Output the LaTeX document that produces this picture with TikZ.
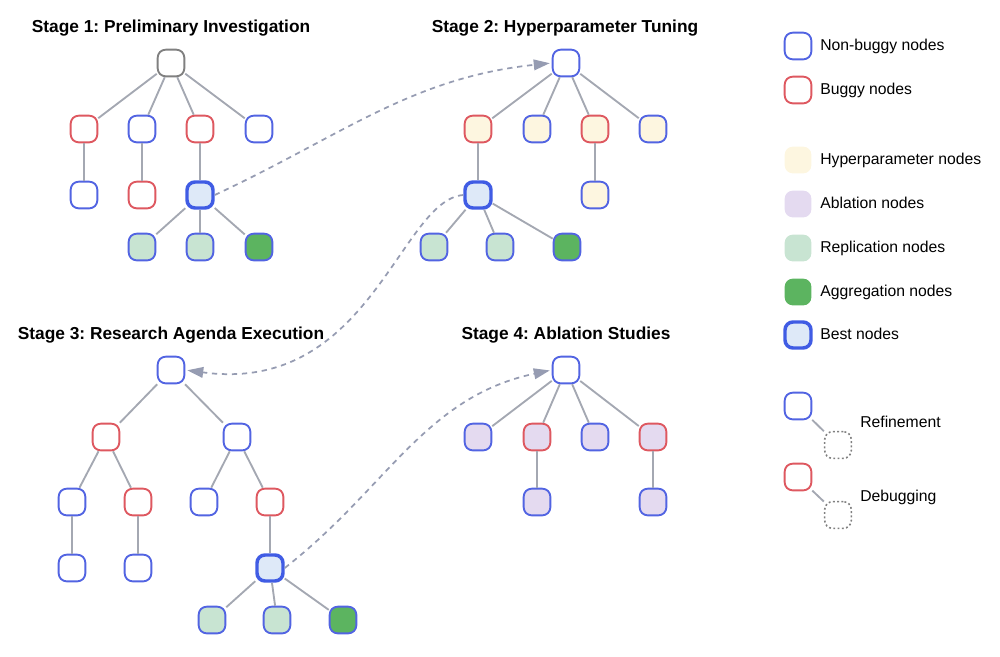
\documentclass[tikz,border=0pt]{standalone}
\usepackage{fontspec}
\setmainfont{Liberation Sans}
\usetikzlibrary{arrows.meta}
\frenchspacing

\definecolor{okblue}{RGB}{82,100,226}
\definecolor{bugred}{RGB}{222,88,96}
\definecolor{rootgray}{RGB}{128,128,128}
\definecolor{edgegray}{RGB}{164,168,178}
\definecolor{linkgray}{RGB}{150,156,178}
\definecolor{hypfill}{RGB}{253,246,224}
\definecolor{ablfill}{RGB}{228,218,240}
\definecolor{repfill}{RGB}{200,228,210}
\definecolor{aggfill}{RGB}{92,180,96}
\definecolor{bestfill}{RGB}{222,233,248}
\definecolor{bestblue}{RGB}{64,92,228}

\tikzset{
  box/.style={rectangle, rounded corners=6pt, minimum size=20pt, inner sep=0pt, line width=1.4pt, fill=white},
  good/.style={box, draw=okblue},
  bad/.style={box, draw=bugred},
  rootbox/.style={box, draw=rootgray},
  best/.style={box, draw=bestblue, line width=2.6pt, fill=bestfill, minimum size=19.5pt},
  ghost/.style={box, draw=rootgray, line width=1.2pt, dash pattern=on 1.4pt off 1.8pt},
  hyp/.style={fill=hypfill},
  abl/.style={fill=ablfill},
  rep/.style={fill=repfill},
  agg/.style={fill=aggfill},
  tie/.style={draw=edgegray, line width=1.4pt},
  jump/.style={draw=linkgray, line width=1.3pt, dash pattern=on 4pt off 3.5pt,
    -{Triangle[length=12pt,width=8pt]}, shorten >=1.5pt},
  stagetitle/.style={font=\fontsize{13}{15}\selectfont\bfseries, inner sep=0pt, text height=0.72em, text depth=0pt},
  legtext/.style={font=\fontsize{11.8}{14}\selectfont, anchor=west, inner sep=0pt, text height=0.72em, text depth=0pt},
}

\begin{document}
\begin{tikzpicture}[x=0.75pt, y=-0.75pt]
    \useasboundingbox (0,0) rectangle (1000,657);

    % Titles
    \node[stagetitle] (t1) at (171,28) {Stage 1: Preliminary Investigation};
    \node[stagetitle] (t2) at (565,28) {Stage 2: Hyperparameter Tuning};
    \node[stagetitle] (t3) at (171,335) {Stage 3: Research Agenda Execution};
    \node[stagetitle] (t4) at (566,335) {Stage 4: Ablation Studies};

    % Stage 1 tree
    \node[rootbox] (s1r) at (171,63) {};
    \node[bad] (s1a) at (84,129) {};
    \node[good] (s1b) at (142,129) {};
    \node[bad] (s1c) at (200,129) {};
    \node[good] (s1d) at (259,129) {};
    \node[good] (s1e) at (84,195) {};
    \node[bad] (s1f) at (142,195) {};
    \node[best] (s1g) at (200,195) {};
    \node[good, rep] (s1h) at (142,247) {};
    \node[good, rep] (s1i) at (200,247) {};
    \node[good, agg] (s1j) at (259,247) {};

    % Stage 2 tree
    \node[good] (s2r) at (566,63) {};
    \node[bad, hyp] (s2a) at (478,129) {};
    \node[good, hyp] (s2b) at (537,129) {};
    \node[bad, hyp] (s2c) at (595,129) {};
    \node[good, hyp] (s2d) at (653,129) {};
    \node[best] (s2e) at (478,195) {};
    \node[good, hyp] (s2f) at (595,195) {};
    \node[good, rep] (s2g) at (434,247) {};
    \node[good, rep] (s2h) at (500,247) {};
    \node[good, agg] (s2i) at (567,247) {};

    % Stage 3 tree
    \node[good] (s3r) at (171,370) {};
    \node[bad] (s3a) at (106,437) {};
    \node[good] (s3b) at (237,437) {};
    \node[good] (s3c) at (72,502) {};
    \node[bad] (s3d) at (138,502) {};
    \node[good] (s3e) at (204,502) {};
    \node[bad] (s3f) at (270,502) {};
    \node[good] (s3g) at (72,568) {};
    \node[good] (s3h) at (138,568) {};
    \node[best] (s3i) at (270,568) {};
    \node[good, rep] (s3j) at (212,620) {};
    \node[good, rep] (s3k) at (277,620) {};
    \node[good, agg] (s3l) at (343,620) {};

    % Stage 4 tree
    \node[good] (s4r) at (566,370) {};
    \node[good, abl] (s4a) at (478,437) {};
    \node[bad, abl] (s4b) at (537,437) {};
    \node[good, abl] (s4c) at (595,437) {};
    \node[bad, abl] (s4d) at (653,437) {};
    \node[good, abl] (s4e) at (537,502) {};
    \node[good, abl] (s4f) at (653,502) {};

    % Tree edges
    \foreach \u/\v in {s1r/s1a, s1r/s1b, s1r/s1c, s1r/s1d, s1a/s1e, s1b/s1f, s1c/s1g,
                       s1g/s1h, s1g/s1i, s1g/s1j,
                       s2r/s2a, s2r/s2b, s2r/s2c, s2r/s2d, s2a/s2e, s2c/s2f,
                       s2e/s2g, s2e/s2h, s2e/s2i,
                       s3r/s3a, s3r/s3b, s3a/s3c, s3a/s3d, s3b/s3e, s3b/s3f,
                       s3c/s3g, s3d/s3h, s3f/s3i, s3i/s3j, s3i/s3k, s3i/s3l,
                       s4r/s4a, s4r/s4b, s4r/s4c, s4r/s4d, s4b/s4e, s4d/s4f}
        \draw[tie] (\u) -- (\v);

    % Stage hand-over arrows
    \draw[jump] (s1g.east) to[out=25, in=186] (s2r.west);
    \draw[jump] (s2e.west) .. controls (400,200) and (370,395) .. (s3r.east);
    \draw[jump] (s3i.east) to[out=38, in=192] (s4r.west);

    % Legend
    \node[good] (k1) at (798,46) {};
    \node[legtext] (l1) at (820,46) {Non-buggy nodes};
    \node[bad] (k2) at (798,90) {};
    \node[legtext] (l2) at (820,90) {Buggy nodes};
    \node[box, draw=none, hyp] (k3) at (798,160) {};
    \node[legtext] (l3) at (820,160) {Hyperparameter nodes};
    \node[box, draw=none, abl] (k4) at (798,204) {};
    \node[legtext] (l4) at (820,204) {Ablation nodes};
    \node[box, draw=none, rep] (k5) at (798,248) {};
    \node[legtext] (l5) at (820,248) {Replication nodes};
    \node[box, draw=none, agg] (k6) at (798,292) {};
    \node[legtext] (l6) at (820,292) {Aggregation nodes};
    \node[best] (k7) at (798,335) {};
    \node[legtext] (l7) at (820,335) {Best nodes};

    % Refinement and debugging
    \node[good] (k8) at (798,406) {};
    \node[ghost] (g1) at (838,445) {};
    \draw[tie] (k8) -- (g1);
    \node[legtext] (l8) at (860,423) {Refinement};
    \node[bad] (k9) at (798,477) {};
    \node[ghost] (g2) at (838,515) {};
    \draw[tie] (k9) -- (g2);
    \node[legtext] (l9) at (860,497) {Debugging};

\end{tikzpicture}
\end{document}
